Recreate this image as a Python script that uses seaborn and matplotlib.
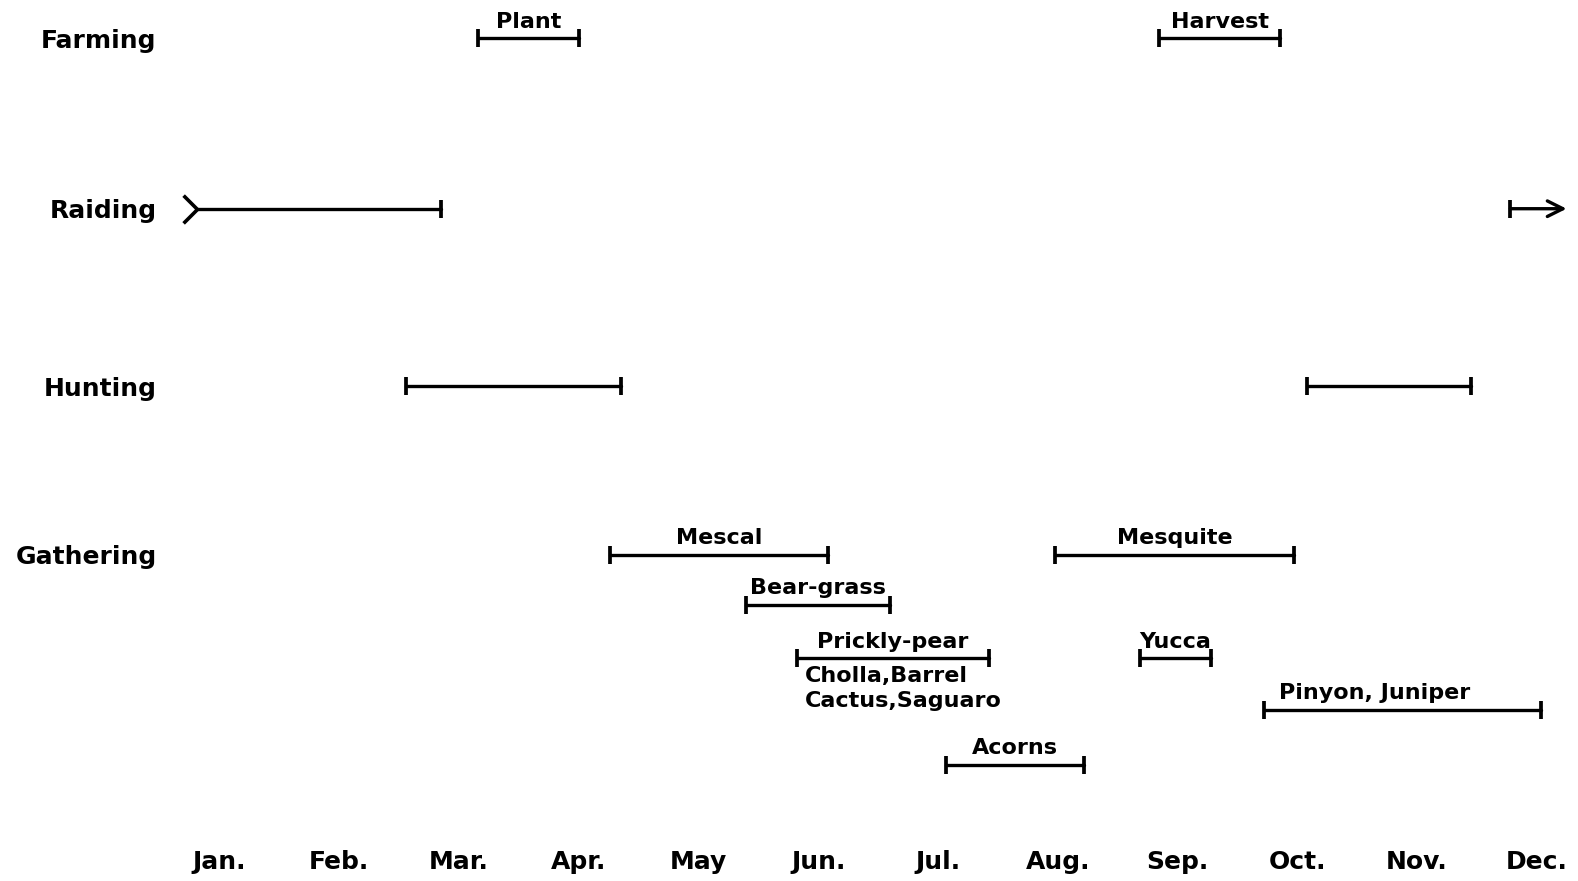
import pandas as pd
import seaborn as sns
import numpy as np
import matplotlib.pyplot as plt

# month ticks (Jan = 1 ... Dec = 12)
months = ['Jan.', 'Feb.', 'Mar.', 'Apr.', 'May', 'Jun.', 'Jul.', 'Aug.', 'Sep.', 'Oct.', 'Nov.', 'Dec.']
activities = ['Farming', 'Raiding', 'Hunting', 'Gathering']
activity_lanes = [0, 0.99, 2.02, 3.0]

# spans in month units
items = ['Plant', 'Harvest', 'Raiding a', 'Raiding b', 'Hunting a', 'Hunting b',
         'Mescal', 'Mesquite', 'Bear-grass', 'Prickly-pear', 'Yucca', 'Pinyon, Juniper', 'Acorns']
labels = ['Plant', 'Harvest', '', '', '', '',
          'Mescal', 'Mesquite', 'Bear-grass', 'Prickly-pear', 'Yucca', 'Pinyon, Juniper', 'Acorns']
starts = [3.16, 8.85, 0.81, 11.78, 2.56, 10.08, 4.26, 7.98, 5.40, 5.82, 8.69, 9.72, 7.07]
ends = [4.00, 9.86, 2.85, 12.25, 4.35, 11.45, 6.08, 9.97, 6.60, 7.43, 9.28, 12.04, 8.22]
lanes = [0, 0, 0.99, 0.99, 2.02, 2.02, 3.0, 3.0, 3.29, 3.60, 3.60, 3.90, 4.22]
note = 'Cholla,Barrel\nCactus,Saguaro'

sns.set_style('white')
plt.rcParams['font.family'] = ['DejaVu Sans']
plt.rcParams['text.color'] = 'black'
plt.rcParams['xtick.color'] = 'black'
plt.rcParams['ytick.color'] = 'black'

fig = plt.figure(figsize=(15.78, 8.81), dpi=100)
ax = fig.add_axes([165 / 1578, 46 / 881, 1 - 165 / 1578, 835 / 881])

df = pd.DataFrame({'item': items, 'start': starts, 'end': ends, 'lane': lanes})
long = pd.concat([
    df[['item', 'lane']].assign(month=df['start']),
    df[['item', 'lane']].assign(month=df['end']),
])
# the continuing raid is drawn as an arrow below
long = long[long['item'] != 'Raiding b']
sns.lineplot(data=long, x='month', y='lane', units='item', estimator=None, sort=False,
             color='black', lw=2.4, ax=ax, legend=False)

# end caps
caps = pd.concat([
    df.loc[df['item'] != 'Raiding a', ['start', 'lane']].rename(columns={'start': 'month'}),
    df.loc[df['item'] != 'Raiding b', ['end', 'lane']].rename(columns={'end': 'month'}),
])
sns.scatterplot(data=caps, x='month', y='lane', marker='|', s=170, linewidth=2.7,
                color='black', ax=ax, legend=False)

# raiding: forked tail at January, arrow on into the new year
ra = df[df['item'] == 'Raiding a'].iloc[0]
ax.plot([ra['start']], [ra['lane']], marker=[(-1, 1), (0, 0), (-1, -1)], ms=20,
        mew=2.6, mfc='none', color='black')
rb = df[df['item'] == 'Raiding b'].iloc[0]
ax.annotate('', xy=(rb['end'], rb['lane']), xytext=(rb['start'], rb['lane']),
            arrowprops=dict(arrowstyle='->', lw=2.4, color='black', mutation_scale=28,
                            shrinkA=0, shrinkB=0))

# span labels
lab_kw = dict(textcoords='offset points', va='baseline', fontsize=16, fontweight='bold')
for it, lab, s, e, y in zip(items, labels, starts, ends, lanes):
    if not lab:
        continue
    if lab == 'Pinyon, Juniper':
        ax.annotate(lab, (s, y), xytext=(11, 7.5), ha='left', **lab_kw)
    else:
        ax.annotate(lab, ((s + e) / 2, y), xytext=(0, 7.5), ha='center', **lab_kw)
pp = df[df['item'] == 'Prickly-pear'].iloc[0]
ax.annotate(note, (pp['start'], pp['lane']), xytext=(6, -6), textcoords='offset points',
            ha='left', va='top', fontsize=16, fontweight='bold', linespacing=1.3)

ax.set_xlim(0.546, 12.345)
ax.set_ylim(4.6275, -0.2222)
ax.set_xticks(range(1, 13))
ax.set_xticklabels(months, fontsize=18, fontweight='bold')
ax.set_yticks(activity_lanes)
ax.set_yticklabels(activities, fontsize=18, fontweight='bold')
ax.tick_params(axis='x', length=0, pad=11)
ax.tick_params(axis='y', length=0, pad=6)
ax.set_xlabel('')
ax.set_ylabel('')
sns.despine(ax=ax, left=True, bottom=True)

fig.savefig('out.png', dpi=100)
